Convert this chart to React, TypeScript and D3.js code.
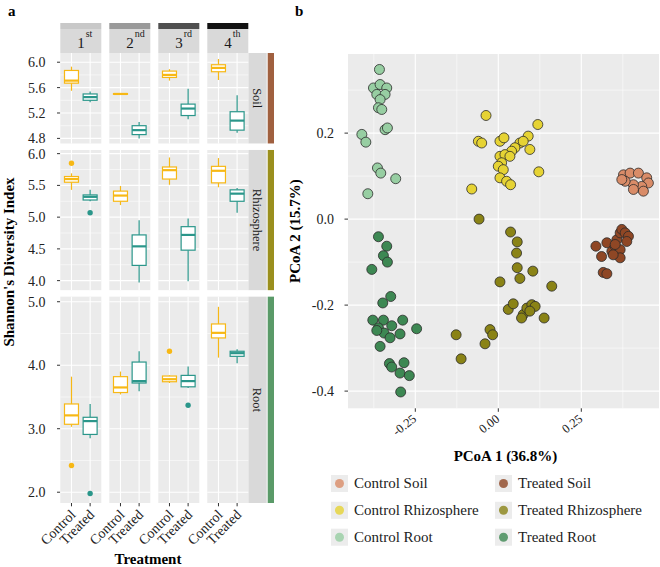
import React from "react";
import * as d3 from "d3";

const W = 660;
const H = 567;
const FONT = "'Liberation Serif','Times New Roman',serif";

// ---------- Panel a data ----------
const stages = ["1", "2", "3", "4"];
const stageSup = ["st", "nd", "rd", "th"];
const stageBarColors = ["#c8c8c8", "#9a9a9a", "#4f4f4f", "#121212"];
const compartments = ["Soil", "Rhizosphere", "Root"];
const compartmentColors = ["#a0603f", "#9a8f1e", "#5a9a68"];
const treatments = ["Control", "Treated"];
const treatmentColors = ["#f7b815", "#2a968a"];

// [lower whisker, q1, median, q3, upper whisker] per stage
const soilControl = [[5.55, 5.67, 5.71, 5.87, 5.93], [5.49, 5.495, 5.5, 5.505, 5.51], [5.71, 5.76, 5.8, 5.86, 5.89], [5.72, 5.85, 5.91, 5.96, 6.05]];
const soilTreated = [[5.37, 5.4, 5.45, 5.5, 5.54], [4.8, 4.86, 4.93, 5.0, 5.06], [5.1, 5.16, 5.27, 5.34, 5.58], [4.89, 4.93, 5.08, 5.22, 5.48]];
const rhizoControl = [[5.43, 5.55, 5.6, 5.64, 5.69], [5.19, 5.25, 5.34, 5.41, 5.49], [5.51, 5.6, 5.74, 5.79, 5.94], [5.47, 5.54, 5.73, 5.8, 5.93]];
const rhizoTreated = [[5.25, 5.27, 5.32, 5.35, 5.43], [3.97, 4.24, 4.54, 4.72, 4.95], [3.99, 4.48, 4.72, 4.85, 4.98], [5.07, 5.25, 5.37, 5.43, 5.46]];
const rootControl = [[3.03, 3.07, 3.21, 3.39, 3.82], [3.54, 3.57, 3.65, 3.82, 3.9], [3.72, 3.74, 3.78, 3.83, 3.84], [4.12, 4.43, 4.51, 4.65, 4.92]];
const rootTreated = [[2.85, 2.91, 3.12, 3.18, 3.39], [3.59, 3.72, 3.75, 4.05, 4.22], [3.64, 3.66, 3.75, 3.84, 3.98], [4.03, 4.14, 4.19, 4.22, 4.25]];
const boxStats = [[soilControl, soilTreated], [rhizoControl, rhizoTreated], [rootControl, rootTreated]];

// outliers: [compartment index, stage index, treatment index, value]
const outliers = [
  [1, 0, 0, 5.85], [1, 0, 1, 5.07],
  [2, 0, 0, 2.42], [2, 0, 1, 1.98],
  [2, 2, 0, 4.22], [2, 2, 1, 3.37],
];

const rowDomains = [[4.72, 6.145], [3.85, 6.058], [1.83, 5.08]];
const rowTicks = [[4.8, 5.2, 5.6, 6.0], [4.0, 4.5, 5.0, 5.5, 6.0], [2.0, 3.0, 4.0, 5.0]];
const rowMinor = [[5.0, 5.4, 5.8], [4.25, 4.75, 5.25, 5.75], [2.5, 3.5, 4.5]];

// ---------- Panel b data (PCoA) ----------
const controlSoil = [[0.377, 0.103], [0.397, 0.107], [0.422, 0.107], [0.447, 0.096], [0.452, 0.084], [0.432, 0.076], [0.407, 0.08], [0.382, 0.088], [0.437, 0.065], [0.407, 0.069], [0.372, 0.092]];
const treatedSoil = [[0.294, -0.063], [0.311, -0.087], [0.327, -0.055], [0.342, -0.075], [0.352, -0.063], [0.357, -0.048], [0.367, -0.032], [0.372, -0.024], [0.382, -0.032], [0.392, -0.04], [0.387, -0.052], [0.367, -0.071], [0.367, -0.09], [0.316, -0.124], [0.327, -0.127], [0.352, -0.059], [0.346, -0.083]];
const controlRhizo = [[-0.037, 0.241], [-0.06, 0.181], [-0.05, 0.177], [0.005, 0.181], [0.017, 0.189], [0.119, 0.22], [0.09, 0.193], [0.095, 0.162], [0.065, 0.177], [0.05, 0.166], [0.075, 0.181], [0.04, 0.158], [0.005, 0.146], [0.02, 0.15], [0.035, 0.146], [0.01, 0.131], [0.0, 0.123], [0.015, 0.115], [0.005, 0.096], [0.025, 0.088], [0.037, 0.08], [0.122, 0.11], [-0.08, 0.07]];
const treatedRhizo = [[-0.058, 0.0], [0.037, -0.03], [0.057, -0.053], [0.055, -0.079], [0.057, -0.113], [0.065, -0.138], [0.104, -0.121], [0.005, -0.146], [0.161, -0.156], [0.03, -0.21], [0.045, -0.197], [0.075, -0.222], [0.086, -0.207], [0.101, -0.199], [0.111, -0.203], [0.095, -0.214], [0.138, -0.23], [-0.025, -0.257], [-0.017, -0.269], [-0.04, -0.29], [-0.127, -0.269], [-0.112, -0.325], [0.07, -0.23]];
const controlRoot = [[-0.358, 0.348], [-0.376, 0.305], [-0.356, 0.313], [-0.336, 0.305], [-0.366, 0.29], [-0.341, 0.29], [-0.356, 0.278], [-0.361, 0.259], [-0.351, 0.255], [-0.341, 0.208], [-0.334, 0.212], [-0.411, 0.197], [-0.399, 0.179], [-0.364, 0.119], [-0.354, 0.107], [-0.309, 0.094], [-0.393, 0.059]];
const treatedRoot = [[-0.361, -0.041], [-0.336, -0.063], [-0.346, -0.085], [-0.334, -0.1], [-0.381, -0.117], [-0.324, -0.18], [-0.348, -0.195], [-0.378, -0.235], [-0.346, -0.235], [-0.288, -0.235], [-0.361, -0.253], [-0.321, -0.248], [-0.344, -0.265], [-0.326, -0.276], [-0.296, -0.267], [-0.356, -0.296], [-0.246, -0.255], [-0.328, -0.336], [-0.321, -0.344], [-0.284, -0.334], [-0.296, -0.358], [-0.268, -0.364], [-0.294, -0.402], [-0.366, -0.259]];

const groupNames = ["Control Soil", "Control Rhizosphere", "Control Root", "Treated Soil", "Treated Rhizosphere", "Treated Root"];
const groupColors = ["#d98c68", "#e6d334", "#97cea2", "#8f4725", "#8a8316", "#3d8853"];
const groupPoints = [controlSoil, controlRhizo, controlRoot, treatedSoil, treatedRhizo, treatedRoot];

const pcoaXTicks = [-0.25, 0, 0.25];
const pcoaXMinor = [-0.375, -0.125, 0.125, 0.375];
const pcoaYTicks = [-0.4, -0.2, 0, 0.2];
const pcoaYMinor = [-0.3, -0.1, 0.1, 0.3];

const GRID_BG = "#ebebeb";

function PanelA() {
  const top = 53, bottom = 503, gap = 6.5;
  const totalUnits = d3.sum(rowDomains, (d) => d[1] - d[0]);
  const k = (bottom - top - gap * (rowDomains.length - 1)) / totalUnits;
  let cursor = top;
  const rows = rowDomains.map((dom) => {
    const h = (dom[1] - dom[0]) * k;
    const y0 = cursor;
    cursor += h + gap;
    return { y0, h, scale: d3.scaleLinear().domain(dom).range([y0 + h, y0]) };
  });
  const colScale = d3.scaleBand().domain(stages).range([60.3, 248.3]).paddingInner(0.163);
  const bw = colScale.bandwidth();
  const inner = d3.scalePoint().domain(treatments).range([0, bw]).padding(0.6);
  const boxW = inner.step() * 0.75;
  const stripX0 = 248.3, stripX1 = 266.7, barX0 = 267.7, barX1 = 274;
  const fmt = d3.format(".1f");

  return (
    <g>
      <text x={8} y={16} fontFamily={FONT} fontWeight="bold" fontSize={15}>a</text>
      {/* top strips */}
      {stages.map((s, i) => {
        const x = colScale(s)!;
        const cx = x + bw / 2;
        return (
          <g key={"ts" + s}>
            <rect x={x} y={23} width={bw} height={6} fill={stageBarColors[i]} />
            <rect x={x} y={29} width={bw} height={24} fill="#d9d9d9" />
            <text x={cx - 3.6} y={48.3} fontFamily={FONT} fontSize={15} fill="#1a1a1a">
              {s}
              <tspan dy={-11} dx={1} fontSize={10}>{stageSup[i]}</tspan>
            </text>
          </g>
        );
      })}
      {rows.map((r, ri) => (
        <g key={"row" + ri}>
          {/* right strip */}
          <rect x={stripX0} y={r.y0} width={stripX1 - stripX0} height={r.h} fill="#d9d9d9" />
          <rect x={barX0} y={r.y0} width={barX1 - barX0} height={r.h} fill={compartmentColors[ri]} />
          <text
            transform={`translate(${(stripX0 + stripX1) / 2 - 4.5},${r.y0 + r.h / 2}) rotate(90)`}
            textAnchor="middle"
            fontFamily={FONT}
            fontSize={12.5}
            fill="#1a1a1a"
          >
            {compartments[ri]}
          </text>
          {/* y axis */}
          {rowTicks[ri].map((t) => (
            <g key={"yt" + t}>
              <line x1={57} x2={60.3} y1={r.scale(t)} y2={r.scale(t)} stroke="#333" strokeWidth={1} />
              <text x={45.5} y={r.scale(t)} dy="0.35em" textAnchor="end" fontFamily={FONT} fontSize={14} fill="#222">
                {fmt(t)}
              </text>
            </g>
          ))}
          {stages.map((s, si) => {
            const px = colScale(s)!;
            return (
              <g key={"p" + s}>
                <rect x={px} y={r.y0} width={bw} height={r.h} fill={GRID_BG} />
                {rowMinor[ri].map((t) => (
                  <line key={"mn" + t} x1={px} x2={px + bw} y1={r.scale(t)} y2={r.scale(t)} stroke="#fff" strokeWidth={0.55} />
                ))}
                {rowTicks[ri].map((t) => (
                  <line key={"mj" + t} x1={px} x2={px + bw} y1={r.scale(t)} y2={r.scale(t)} stroke="#fff" strokeWidth={1.1} />
                ))}
                {treatments.map((tr) => (
                  <line key={"vx" + tr} x1={px + inner(tr)!} x2={px + inner(tr)!} y1={r.y0} y2={r.y0 + r.h} stroke="#fff" strokeWidth={1.1} />
                ))}
                {treatments.map((tr, ti) => {
                  const st = boxStats[ri][ti][si];
                  const cx = px + inner(tr)!;
                  const col = treatmentColors[ti];
                  const y = r.scale;
                  return (
                    <g key={"b" + tr}>
                      <line x1={cx} x2={cx} y1={y(st[4])} y2={y(st[3])} stroke={col} strokeWidth={1.2} />
                      <line x1={cx} x2={cx} y1={y(st[1])} y2={y(st[0])} stroke={col} strokeWidth={1.2} />
                      <rect x={cx - boxW / 2} y={y(st[3])} width={boxW} height={Math.max(0.01, y(st[1]) - y(st[3]))} fill="#fff" stroke={col} strokeWidth={1.2} />
                      <line x1={cx - boxW / 2} x2={cx + boxW / 2} y1={y(st[2])} y2={y(st[2])} stroke={col} strokeWidth={2.2} />
                    </g>
                  );
                })}
                {outliers
                  .filter((o) => o[0] === ri && o[1] === si)
                  .map((o, oi) => (
                    <circle key={"o" + oi} cx={px + inner(treatments[o[2]])!} cy={r.scale(o[3])} r={2.7} fill={treatmentColors[o[2]]} />
                  ))}
              </g>
            );
          })}
        </g>
      ))}
      {/* x ticks and labels */}
      {stages.map((s) =>
        treatments.map((tr) => {
          const x = colScale(s)! + inner(tr)!;
          return (
            <g key={"xl" + s + tr}>
              <line x1={x} x2={x} y1={503} y2={506.3} stroke="#333" strokeWidth={1} />
              <text
                transform={`translate(${x + 5},${515.5}) rotate(-45)`}
                textAnchor="end"
                fontFamily={FONT}
                fontSize={14}
                fill="#222"
              >
                {tr}
              </text>
            </g>
          );
        })
      )}
      <text x={148} y={563.5} textAnchor="middle" fontFamily={FONT} fontWeight="bold" fontSize={15}>Treatment</text>
      <text transform={`translate(14,262) rotate(-90)`} textAnchor="middle" fontFamily={FONT} fontWeight="bold" fontSize={15}>
        Shannon's Diversity Index
      </text>
    </g>
  );
}

function PanelB() {
  const x0 = 348, x1 = 659, y0 = 54, y1 = 408.3;
  const xs = d3.scaleLinear().domain([-0.4527, 0.484]).range([x0, x1]);
  const ys = d3.scaleLinear().domain([-0.44, 0.384]).range([y1, y0]);
  const fmtY = d3.format(".1f");
  const fmtX = d3.format(".2f");
  const minus = (s: string) => s.replace("−", "-");
  const legendCols = [331, 495];
  const legendRows = [483.5, 510.3, 537.2];
  return (
    <g>
      <text x={295} y={16} fontFamily={FONT} fontWeight="bold" fontSize={15}>b</text>
      <defs>
        <clipPath id="pcoaClip">
          <rect x={x0} y={y0} width={x1 - x0} height={y1 - y0} />
        </clipPath>
      </defs>
      <rect x={x0} y={y0} width={x1 - x0} height={y1 - y0} fill={GRID_BG} />
      {pcoaXMinor.map((t) => (
        <line key={"xm" + t} x1={xs(t)} x2={xs(t)} y1={y0} y2={y1} stroke="#fff" strokeWidth={0.55} />
      ))}
      {pcoaYMinor.map((t) => (
        <line key={"ym" + t} x1={x0} x2={x1} y1={ys(t)} y2={ys(t)} stroke="#fff" strokeWidth={0.55} />
      ))}
      {pcoaXTicks.map((t) => (
        <line key={"xM" + t} x1={xs(t)} x2={xs(t)} y1={y0} y2={y1} stroke="#fff" strokeWidth={1.1} />
      ))}
      {pcoaYTicks.map((t) => (
        <line key={"yM" + t} x1={x0} x2={x1} y1={ys(t)} y2={ys(t)} stroke="#fff" strokeWidth={1.1} />
      ))}
      <g clipPath="url(#pcoaClip)">
        {groupPoints.map((pts, gi) =>
          pts.map((p, pi) => (
            <circle key={gi + "-" + pi} cx={xs(p[0])} cy={ys(p[1])} r={5} fill={groupColors[gi]} stroke="#2b2b2b" strokeWidth={0.8} />
          ))
        )}
      </g>
      {pcoaYTicks.map((t) => (
        <g key={"yt" + t}>
          <line x1={x0 - 3.5} x2={x0} y1={ys(t)} y2={ys(t)} stroke="#333" />
          <text x={x0 - 14} y={ys(t)} dy="0.35em" textAnchor="end" fontFamily={FONT} fontSize={14} fill="#222">
            {minus(fmtY(t))}
          </text>
        </g>
      ))}
      {pcoaXTicks.map((t) => (
        <g key={"xt" + t}>
          <line x1={xs(t)} x2={xs(t)} y1={y1} y2={y1 + 3.5} stroke="#333" />
          <text
            transform={`translate(${xs(t) + 2},${y1 + 12}) rotate(-38)`}
            textAnchor="end"
            fontFamily={FONT}
            fontSize={12.5}
            fill="#222"
          >
            {minus(fmtX(t))}
          </text>
        </g>
      ))}
      <text x={(x0 + x1) / 2 + 2} y={460.5} textAnchor="middle" fontFamily={FONT} fontWeight="bold" fontSize={15}>
        PCoA 1 (36.8%)
      </text>
      <text transform={`translate(300,${(y0 + y1) / 2}) rotate(-90)`} textAnchor="middle" fontFamily={FONT} fontWeight="bold" fontSize={15}>
        PCoA 2 (15.7%)
      </text>
      {groupNames.map((name, gi) => {
        const cx = legendCols[Math.floor(gi / 3)];
        const cy = legendRows[gi % 3];
        return (
          <g key={"lg" + gi}>
            <rect x={cx} y={cy - 8.5} width={17} height={17} fill="#ececec" />
            <circle cx={cx + 8.5} cy={cy} r={4.5} fill={groupColors[gi]} opacity={0.8} />
            <text x={cx + 23} y={cy} dy="0.33em" fontFamily={FONT} fontSize={15} fill="#222">
              {name}
            </text>
          </g>
        );
      })}
    </g>
  );
}

export default function App() {
  return (
    <svg
      width={W}
      height={H}
      viewBox={`0 0 ${W} ${H}`}
      style={{ position: "absolute", left: 0, top: 0, background: "#fff" }}
    >
      <rect x={0} y={0} width={W} height={H} fill="#fff" />
      <PanelA />
      <PanelB />
    </svg>
  );
}
